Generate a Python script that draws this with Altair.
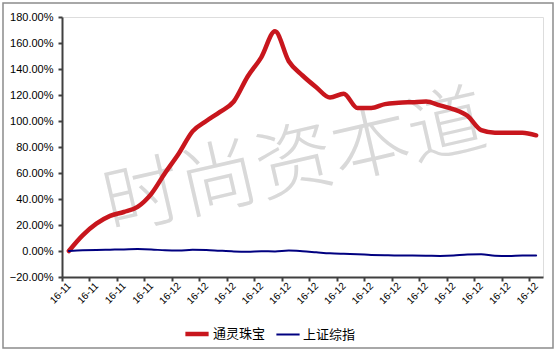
import altair as alt
import pandas as pd

# ---- data ----
series_names = ["通灵珠宝", "上证综指"]
tonglin = [0, 12, 21, 27, 30, 34, 44, 60, 75, 92, 100, 107, 115, 134, 149, 169,
           146, 135, 126, 118, 121, 110, 110, 113, 114, 114.5, 115, 112, 109, 104,
           93, 91, 91, 91, 89]
shanghai = [0, 0.5, 0.8, 1.0, 1.2, 1.5, 1.2, 0.5, 0.3, 1.0, 0.8, 0.2, -0.3, -0.5,
            -0.2, -0.3, 0.3, -0.2, -1.0, -1.8, -2.2, -2.5, -3.0, -3.3, -3.5, -3.5,
            -3.6, -3.8, -3.5, -2.6, -2.5, -3.6, -3.8, -3.5, -3.5]
tick_labels = ["16-11"] * 4 + ["16-12"] * 14   # one label every two points
y_ticks = [-20, 0, 20, 40, 60, 80, 100, 120, 140, 160, 180]
watermark = "时尚资本道"

rows = []
for i, v in enumerate(tonglin):
    rows.append({"idx": i, "value": v / 100, "series": series_names[0]})
for i, v in enumerate(shanghai):
    rows.append({"idx": i, "value": v / 100, "series": series_names[1]})
df = pd.DataFrame(rows)

n = len(tonglin)
W, H = 481, 260
half_step = W / n / 2

label_js = "[" + ",".join("'%s'" % s for s in tick_labels) + "]"

x_enc = alt.X(
    "idx:Q",
    scale=alt.Scale(domain=[-0.5, n - 0.5], nice=False, zero=False),
    axis=alt.Axis(
        values=list(range(0, n, 2)),
        labelExpr=label_js + "[floor(datum.value / 2)]",
        labelAngle=-45,
        labelAlign="right",
        labelBaseline="middle",
        tickOffset=-half_step,
        labelOffset=half_step,
        labelFont="Liberation Sans",
        labelFontSize=10,
        labelColor="#000000",
        labelPadding=3,
        domainColor="#404040",
        domainWidth=2,
        tickColor="#404040",
        tickWidth=2,
        tickSize=4,
        grid=False,
        title=None,
    ),
)
y_enc = alt.Y(
    "value:Q",
    scale=alt.Scale(domain=[-0.2, 1.8], nice=False),
    axis=alt.Axis(
        values=[t / 100 for t in y_ticks],
        format=".2%",
        labelFont="Liberation Sans",
        labelFontSize=11,
        labelColor="#000000",
        labelPadding=5,
        domainColor="#404040",
        domainWidth=2,
        tickColor="#404040",
        tickWidth=2,
        tickSize=4,
        grid=False,
        title=None,
    ),
)

legend = alt.Legend(
    orient="none",
    legendX=121,
    legendY=303,
    direction="horizontal",
    title=None,
    symbolType="stroke",
    symbolSize=540,
    labelFont="Noto Sans CJK SC",
    labelFontSize=13,
    labelColor="#000000",
    columnPadding=6,
    labelOffset=2,
)

lines = alt.Chart(df).mark_line(interpolate="monotone", strokeCap="round").encode(
    x=x_enc,
    y=y_enc,
    color=alt.Color("series:N",
                    scale=alt.Scale(domain=series_names, range=["#C8161D", "#000080"]),
                    legend=legend),
    strokeWidth=alt.StrokeWidth("series:N",
                                scale=alt.Scale(domain=series_names, range=[4.5, 2]),
                                legend=legend),
    detail="series:N",
)

wm = alt.Chart(pd.DataFrame({"t": [watermark]})).mark_text(
    fontSize=78,
    font="Noto Sans CJK SC",
    fontWeight=300,
    color="#d9d9d9",
    angle=347,
    align="center",
    baseline="middle",
).encode(text="t:N", x=alt.value(233), y=alt.value(148))

border = alt.Chart(pd.DataFrame({"a": [0]})).mark_rect(
    fill=None, stroke="#8c8c8c", strokeWidth=1.5
).encode(x=alt.value(-59), x2=alt.value(491), y=alt.value(-14), y2=alt.value(331))

chart = alt.layer(border, wm, lines).properties(
    width=W, height=H,
    autosize=alt.AutoSizeParams(type="none"),
    padding={"left": 62, "top": 17, "right": 17, "bottom": 76},
).configure_view(stroke=None).configure(background="#ffffff")

chart.save("out.html", embed_options={"renderer": "svg", "actions": False})
